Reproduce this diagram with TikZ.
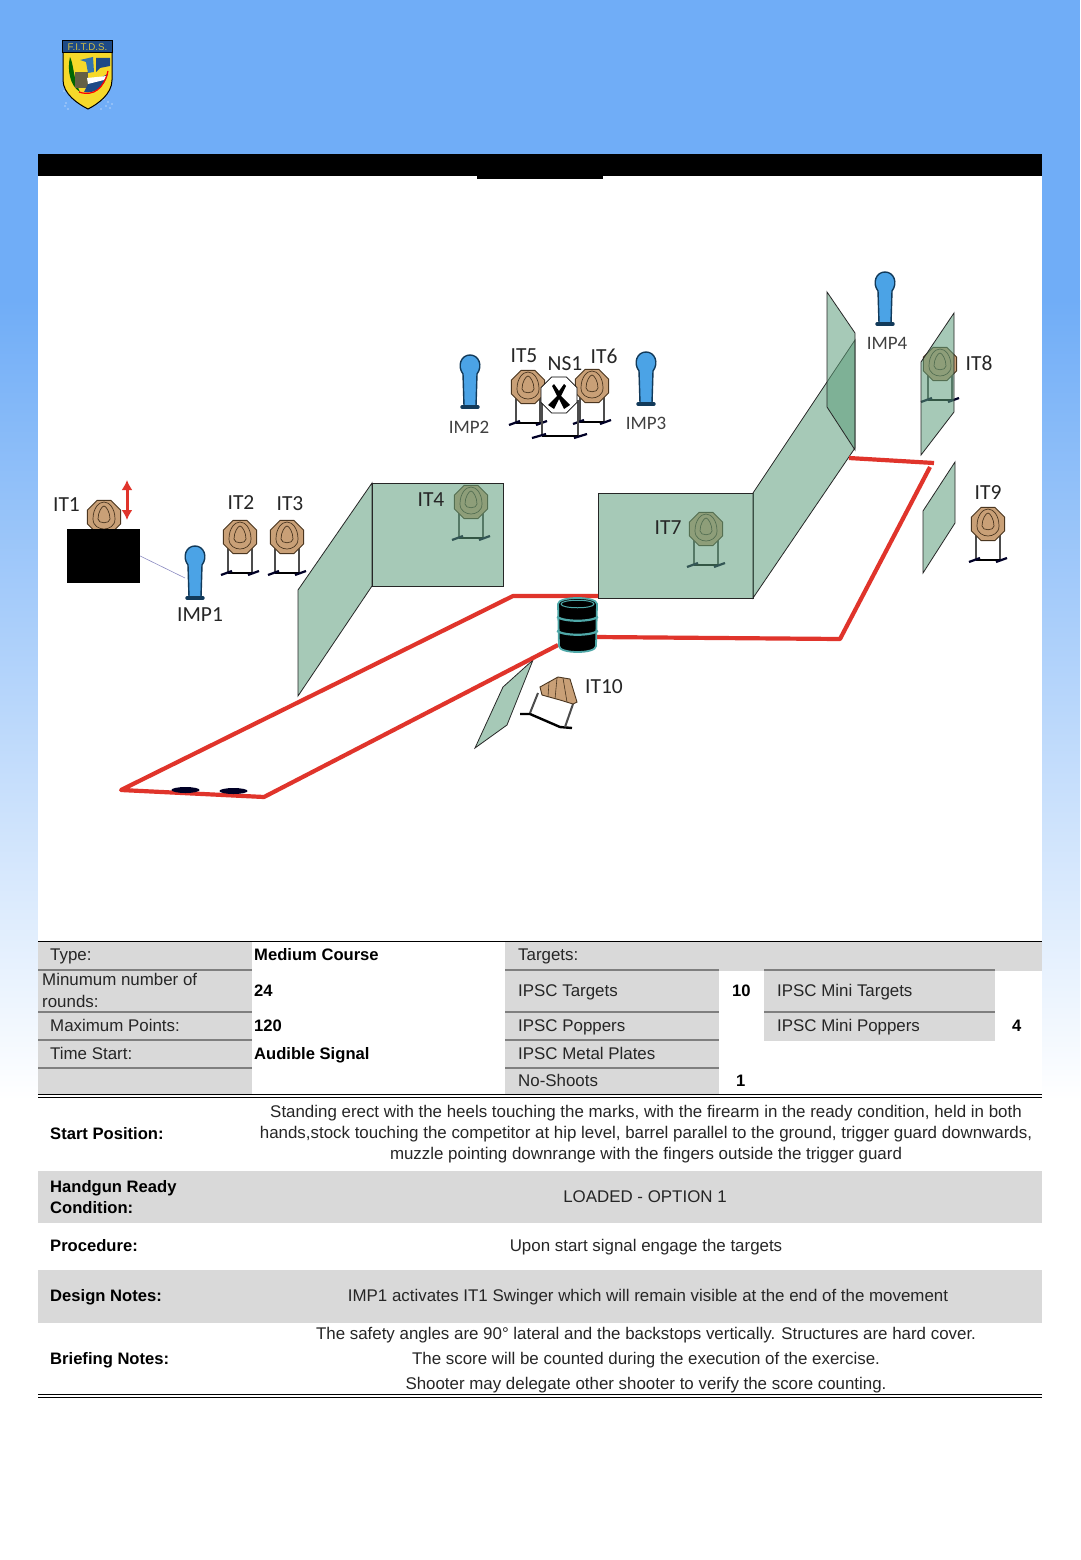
\documentclass[tikz,border=0pt]{standalone}
\usepackage{fontspec}
\usetikzlibrary{arrows.meta}
\setmainfont{Liberation Sans}
\newfontfamily\labelfont{Carlito}
\definecolor{skyblue}{HTML}{70ADF7}
\definecolor{tanbody}{HTML}{C9A077}
\definecolor{tanline}{HTML}{4A3620}
\definecolor{panelgreen}{HTML}{5E9E7C}
\definecolor{popblue}{HTML}{4BA3E6}
\definecolor{popline}{HTML}{123A5A}
\definecolor{faultred}{HTML}{E0342B}
\definecolor{rowgray}{HTML}{D9D9D9}
\definecolor{rulegray}{HTML}{7F7F7F}
\definecolor{ribteal}{HTML}{4FA8A8}
\definecolor{logoblue}{HTML}{1D4A86}
\definecolor{logogold}{HTML}{F6D92A}
\begin{document}
\begin{tikzpicture}[x=1pt, y=-1pt,
        panel/.style={fill=panelgreen, fill opacity=0.55, draw=black!85, line width=0.8pt},
        fault/.style={draw=faultred, line width=4.2pt, line join=round},
        itlabel/.style={font=\labelfont\fontsize{21.5}{24}\selectfont, inner sep=0pt, text=black!85},
        implabel/.style={itlabel, font=\labelfont\fontsize{19}{24}\selectfont, text=black!75},
        cell/.style={font=\fontsize{16.9}{20}\selectfont, anchor=mid west, inner sep=0pt, yshift=-4pt, text=black!85},
        cellb/.style={cell, font=\bfseries\fontsize{16.6}{20}\selectfont, text=black},
        note/.style={font=\fontsize{16.9}{20}\selectfont, anchor=mid, inner sep=0pt, yshift=-4pt, text=black!85},
        stand/.pic={
            \draw[line width=2pt, black!70] (-12,8) -- (-12,36);
            \draw[line width=2pt, black!70] (12,8) -- (12,36);
            \draw[line width=2.6pt] (-12,36) -- (12,36);
            \draw[line width=2.2pt, black!85!blue] (-19,38) -- (-8,34);
            \draw[line width=2.2pt, black!85!blue] (8,38) -- (19,34);
        },
        octface/.pic={
            \draw[fill=tanbody, draw=tanline, line width=0.9pt] (22.5:18) -- (67.5:18) -- (112.5:18) -- (157.5:18)
                -- (202.5:18) -- (247.5:18) -- (292.5:18) -- (337.5:18) -- cycle;
            \draw[tanline, line width=0.7pt] (-11,2) .. controls (-11,-9) and (-5,-15) .. (0,-15)
                .. controls (5,-15) and (11,-9) .. (11,2) .. controls (11,9) and (5,12) .. (0,12)
                .. controls (-5,12) and (-11,9) .. (-11,2) -- cycle;
            \draw[tanline, line width=0.7pt] (-6,2) .. controls (-6,-5) and (-2,-11) .. (0,-11)
                .. controls (2,-11) and (6,-5) .. (6,2) .. controls (6,7) and (-6,7) .. (-6,2) -- cycle;
        },
        popper/.pic={
            \draw[fill=popblue, draw=popline, line width=1.4pt] (-7,8) .. controls (-13,0) and (-9,-11) .. (0,-11)
                .. controls (9,-11) and (13,0) .. (7,8) -- (6,40) -- (-6,40) -- cycle;
            \draw[line width=3.4pt, popline, line cap=round] (-8,41) -- (8,41);
        }]
    \useasboundingbox (0,0) rectangle (1080,1560);

    % Page background
    \fill[skyblue] (0,0) rectangle (1080,300);
    \shade[top color=skyblue, bottom color=white] (0,300) rectangle (1080,1100);
    \fill[white] (38,154) rectangle (1042,1560);
    \fill[white] (0,1100) rectangle (1080,1560);

    % Title bar
    \fill[black] (38,154) rectangle (1042,176);
    \fill[black] (477,176) rectangle (603,179);

    % Logo
    \foreach \dotx/\doty in {64/91, 66/103, 68/109, 65/106, 104/99, 108/102, 110/108, 112/104, 101/109, 106/106} {
        \fill[white] (\dotx,\doty) circle (0.7);
    }
    \draw[fill=logogold, line width=1pt] (63,52) -- (112,52) -- (112,80)
        .. controls (112,94) and (98,104) .. (88,109) .. controls (78,104) and (63,94) .. (63,80) -- cycle;
    \node[draw=black, fill=logoblue, line width=1pt, minimum width=50pt, minimum height=12pt, inner sep=0pt,
        text=logogold!70!gray, font=\fontsize{9.8}{10}\selectfont] (logotitle) at (87.5,47) {F.I.T.D.S.};
    \fill[green!40!black] (70,57) .. controls (74,65) and (73,78) .. (80,92) .. controls (70,86) and (67,70) .. (70,57) -- cycle;
    \fill[cyan!60!blue!80!black] (80,60) -- (93,57) -- (94,72) -- (88,73) -- (86,62) -- cycle;
    \fill[logoblue] (96,58) -- (110,58) -- (110,66) -- (100,68) -- (96,72) -- cycle;
    \fill[black!70!yellow] (75,72) rectangle (88,88);
    \fill[logoblue] (88,84) -- (108,74) .. controls (104,88) and (94,94) .. (84,92) -- cycle;
    \fill[white] (87,78) -- (107,76) -- (104,80) -- (88,84) -- cycle;
    \draw[red, line width=1.2pt] (79,92) .. controls (94,97) and (104,88) .. (108,71);

    % Targets behind the walls
    \pic at (471,502) {stand};
    \pic at (471,502) {octface};
    \pic at (706,529) {stand};
    \pic at (706,529) {octface};
    \pic at (940,364) {stand};
    \pic at (940,364) {octface};

    % Walls
    \draw[panel] (372,483) -- (298,590) -- (298,696) -- (372,586) -- cycle;
    \draw[panel] (372,483) rectangle (503,586);
    \draw[panel] (598,493) rectangle (753,598);
    \draw[panel] (753,493) -- (855,340) -- (855,448) -- (753,598) -- cycle;
    \draw[panel] (827,292) -- (855,333) -- (855,450) -- (827,407) -- cycle;
    \draw[panel] (954,313) -- (921,362) -- (921,455) -- (954,412) -- cycle;
    \draw[panel] (955,462) -- (923,511) -- (923,573) -- (955,523) -- cycle;
    \draw[panel] (533,660) -- (503,687) -- (475,748) -- (507,725) -- (521,690) -- cycle;

    % Fault lines
    \draw[fault] (598,596) -- (513,596) -- (121,790) -- (264,797) -- (558,645);
    \draw[fault] (595,637) -- (840,639) -- (930,467);
    \draw[fault] (849,458) -- (934,463);

    % Shooting marks
    \fill[black!85!blue] (185.5,790) ellipse (14 and 3);
    \fill[black!85!blue] (233.5,791) ellipse (14 and 3);

    % Barrel
    \draw[fill=black, draw=ribteal, line width=1.8pt] (558,604) -- (559,646) .. controls (559,654) and (596,654) .. (596,646)
        -- (597,604) .. controls (597,596) and (558,596) .. (558,604) -- cycle;
    \draw[ribteal, line width=1pt] (561,604) .. controls (561,609) and (594,609) .. (594,604)
        .. controls (594,599) and (561,599) .. (561,604) -- cycle;
    \foreach \ribY in {617,631} {
        \draw[ribteal, line width=2.2pt] (557,\ribY) .. controls (565,\ribY+5) and (590,\ribY+5) .. (598,\ribY);
    }

    % Swinger and its box
    \pic at (104,517) {octface};
    \node[fill=black, minimum width=73pt, minimum height=54pt, inner sep=0pt] (swingbox) at (103.5,556) {};
    \draw[<->, >={Latex[length=10pt,width=11pt]}, faultred, line width=3pt] (127,480) -- (127,520);

    % Plain targets
    \foreach \tx/\ty in {240/537, 287/537, 528/387, 592/386, 988/524} {
        \pic at (\tx,\ty) {stand};
        \pic at (\tx,\ty) {octface};
    }

    % No-shoot
    \draw[line width=2pt, black!70] (542,400) -- (542,436);
    \draw[line width=2pt, black!70] (578,400) -- (578,436);
    \draw[line width=2.6pt] (542,436) -- (578,436);
    \draw[line width=2.2pt, black!85!blue] (532,438) -- (546,434);
    \draw[line width=2.2pt, black!85!blue] (574,438) -- (587,434);
    \begin{scope}[shift={(559,395)}]
        \draw[fill=white, line width=0.7pt] (22.5:19.5) -- (67.5:19.5) -- (112.5:19.5) -- (157.5:19.5)
            -- (202.5:19.5) -- (247.5:19.5) -- (292.5:19.5) -- (337.5:19.5) -- cycle;
    \end{scope}
    \fill[black] (554,384) -- (559,391) -- (564,384) -- (566,386) -- (561,396) -- (570,405) -- (564,409) -- (559,399)
        -- (554,409) -- (548,405) -- (557,396) -- (552,386) -- cycle;

    % Falling target
    \draw[line width=2.4pt] (520,714) -- (530,714) -- (560,727) -- (572,728);
    \draw[line width=2pt, black!70] (538,693) -- (530,713);
    \draw[line width=2pt, black!70] (573,704) -- (565,727);
    \draw[fill=tanbody, draw=tanline, line width=0.9pt] (540,687) -- (558,677) -- (570,679) -- (577,702) -- (573,704)
        -- (560,700) -- (542,695) -- cycle;
    \draw[tanline, line width=0.6pt] (549,682) -- (548,697);
    \draw[tanline, line width=0.6pt] (557,678) -- (555,699);
    \draw[tanline, line width=0.6pt] (563,678) -- (567,702);

    % Poppers
    \pic at (195,557) {popper};
    \pic at (470,366) {popper};
    \pic at (646,363) {popper};
    \pic at (885,283) {popper};
    \coordinate (imp1side) at (185,578);
    \draw[blue!30!gray!70, line width=0.6pt] (swingbox.east) -- (imp1side);

    % Stage labels
    \node[itlabel] (it1) at (66.5,505) {IT1};
    \node[itlabel] (it2) at (241,503) {IT2};
    \node[itlabel] (it3) at (290,504) {IT3};
    \node[itlabel] (it4) at (431,500) {IT4};
    \node[itlabel] (it5) at (524,356) {IT5};
    \node[itlabel] (it6) at (604,356) {IT6};
    \node[itlabel] (ns1) at (565,364) {NS1};
    \node[itlabel] (it7) at (668,528) {IT7};
    \node[itlabel] (it8) at (979,363) {IT8};
    \node[itlabel] (it9) at (988,493) {IT9};
    \node[itlabel] (it10) at (604,687) {IT10};
    \node[itlabel] (imp1) at (200,615) {IMP1};
    \node[implabel] (imp2) at (469,427) {IMP2};
    \node[implabel] (imp3) at (646,423) {IMP3};
    \node[implabel] (imp4) at (887,343) {IMP4};

    % Table fills
    \fill[rowgray] (38,941) rectangle (252,1095);
    \fill[rowgray] (505,941) rectangle (1042,971);
    \fill[rowgray] (505,971) rectangle (719,1095);
    \fill[rowgray] (764,971) rectangle (995,1041);
    \fill[rowgray] (38,1171) rectangle (1042,1223);
    \fill[rowgray] (38,1270) rectangle (1042,1323);

    % Table rules
    \foreach \ry in {970,1012,1040,1068} {
        \draw[rulegray, line width=2.4pt] (38,\ry) -- (252,\ry);
        \draw[rulegray, line width=2.4pt] (505,\ry) -- (719,\ry);
    }
    \foreach \ry in {970,1012} {
        \draw[rulegray, line width=2.4pt] (764,\ry) -- (995,\ry);
    }
    \draw[black, line width=0.9pt] (38,941) -- (1042,941);
    \foreach \ry in {1094.5,1097.5,1394,1397} {
        \draw[black, line width=0.8pt] (38,\ry) -- (1042,\ry);
    }

    % Table text
    \node[cell] (typelabel) at (50,954) {Type:};
    \node[cellb] (typeval) at (254,954) {Medium Course};
    \node[cell] (minlabel) at (42,979) {Minumum number of};
    \node[cell] (minlabelb) at (42,1001) {rounds:};
    \node[cellb] (minval) at (254,990) {24};
    \node[cell] (maxlabel) at (50,1025) {Maximum Points:};
    \node[cellb] (maxval) at (254,1025) {120};
    \node[cell] (timelabel) at (50,1053) {Time Start:};
    \node[cellb] (timeval) at (254,1053) {Audible Signal};
    \node[cell] (targetshead) at (518,954) {Targets:};
    \node[cell] (ipsctargets) at (518,990) {IPSC Targets};
    \node[cellb] (ipsctargetsval) at (732,990) {10};
    \node[cell] (minitargets) at (777,990) {IPSC Mini Targets};
    \node[cell] (ipscpoppers) at (518,1025) {IPSC Poppers};
    \node[cell] (minipoppers) at (777,1025) {IPSC Mini Poppers};
    \node[cellb] (minipoppersval) at (1012,1025) {4};
    \node[cell] (metalplates) at (518,1053) {IPSC Metal Plates};
    \node[cell] (noshoots) at (518,1080) {No-Shoots};
    \node[cellb] (noshootsval) at (736,1080) {1};

    % Notes
    \node[cellb] (startlabel) at (50,1133) {Start Position:};
    \node[note] (startone) at (646,1111) {Standing erect with the heels touching the marks, with the firearm in the ready condition, held in both};
    \node[note] (starttwo) at (646,1132) {hands,stock touching the competitor at hip level, barrel parallel to the ground, trigger guard downwards,};
    \node[note] (startthree) at (646,1153) {muzzle pointing downrange with the fingers outside the trigger guard};
    \node[cellb] (readylabel) at (50,1186) {Handgun Ready};
    \node[cellb] (readylabelb) at (50,1207) {Condition:};
    \node[note] (readyval) at (645,1196) {LOADED - OPTION 1};
    \node[cellb] (proclabel) at (50,1245) {Procedure:};
    \node[note] (procval) at (646,1245) {Upon start signal engage the targets};
    \node[cellb] (designlabel) at (50,1295) {Design Notes:};
    \node[note] (designval) at (648,1295) {IMP1 activates IT1 Swinger which will remain visible at the end of the movement};
    \node[cellb] (brieflabel) at (50,1358) {Briefing Notes:};
    \node[note] (briefone) at (646,1333) {The safety angles are 90° lateral and the backstops vertically. Structures are hard cover.};
    \node[note] (brieftwo) at (646,1358) {The score will be counted during the execution of the exercise.};
    \node[note] (briefthree) at (646,1383) {Shooter may delegate other shooter to verify the score counting.};
\end{tikzpicture}
\end{document}
